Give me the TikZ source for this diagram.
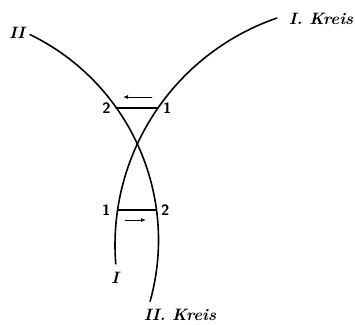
\documentclass[tikz,border=0pt]{standalone}
\usepackage{xcolor}
\usepackage{tikz}
\usetikzlibrary{arrows.meta, calc}

\begin{document}
\begin{tikzpicture}[x=1pt, y=1pt, line cap=round, line join=round,
		kreis/.style={line width=1.6pt},
		quer/.style={line width=1.1pt},
		pfeil/.style={line width=0.9pt, -{Latex[length=5pt, width=4pt]}},
		lbl/.style={font=\fontsize{16.5}{18}\selectfont\bfseries\itshape, inner sep=1pt},
		num/.style={font=\fontsize{15}{17}\selectfont\sffamily\bfseries, inner sep=1pt}]
				\useasboundingbox (0,0) rectangle (355,324);
				% centres of the two circles
				\coordinate (cI) at (355,79);
				\coordinate (cII) at (-70,84);
				\draw[kreis] (cI) ++(109:240) arc[start angle=109, end angle=184.5, radius=240];
				\draw[kreis] (cII) ++(64:228.5) arc[start angle=64, end angle=-15.6, radius=228.5];
				% points on the curves
				\coordinate (a1) at (157.9,216);
				\coordinate (a2) at (115.9,216);
				\coordinate (b1) at (117.6,114);
				\coordinate (b2) at (156,114);
				\draw[quer] (a1)--(a2);
				\draw[quer] (b1)--(b2);
				\node[num, right=4pt] (na1) at (a1) {1};
				\node[num, left=4pt] (na2) at (a2) {2};
				\node[num, left=6pt] (nb1) at (b1) {1};
				\node[num, right=4pt] (nb2) at (b2) {2};
				% direction arrows
				\coordinate (pa) at (152,227);
				\coordinate (pb) at (123,227);
				\coordinate (qa) at (125,104);
				\coordinate (qb) at (146,104);
				\draw[pfeil] (pa)--(pb);
				\draw[pfeil] (qa)--(qb);
				% names of the circles
				\node[lbl] (kI) at (321,305) {I. Kreis};
				\node[lbl] (kII) at (17,291) {II};
				\node[lbl] (eI) at (115,46) {I};
				\node[lbl] (eII) at (180,9) {II. Kreis};
			\end{tikzpicture}
\end{document}
